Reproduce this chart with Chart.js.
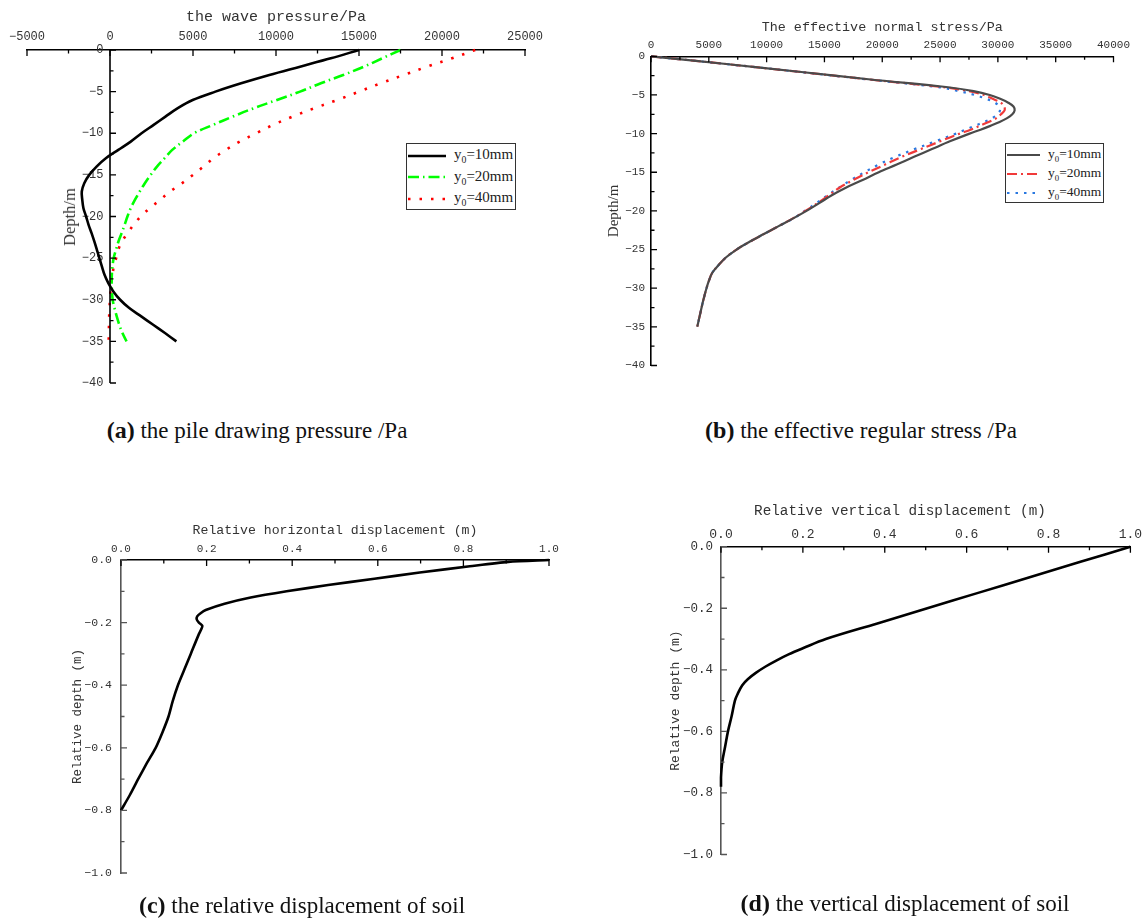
<!DOCTYPE html>
<html>
<head>
<meta charset="utf-8">
<script src="https://cdn.jsdelivr.net/npm/chart.js@4/dist/chart.umd.min.js"></script>
<style>
  body { margin: 0; background: #fff; width: 1146px; height: 919px; position: relative; overflow: hidden; font-family: "Liberation Serif", serif; }
  canvas { position: absolute; }
  .legend { position: absolute; box-sizing: border-box; border: 1.5px solid #333; background: #fff; padding: 1px 0 0 1px; color: #222; }
  .legend .row { display: flex; align-items: center; white-space: nowrap; }
  .legend svg { margin-right: 8px; }
  .legend sub { font-size: 0.65em; }
  .caption { position: absolute; font-size: 23px; line-height: 24px; white-space: nowrap; transform: translateX(-50%); color: #111; }
  .caption b { font-size: 24px; }
  .ytitle { position: absolute; white-space: nowrap; color: #333; transform: translate(-50%, -50%) rotate(-90deg); }
</style>
</head>
<body>
<canvas id="chartA" width="570" height="405" style="left:0;top:0"></canvas>
<canvas id="chartB" width="566" height="405" style="left:580px;top:0"></canvas>
<canvas id="chartC" width="570" height="429" style="left:0;top:490px"></canvas>
<canvas id="chartD" width="566" height="429" style="left:580px;top:490px"></canvas>

<div class="ytitle" style="left:69.6px;top:216.5px;font-size:16.5px">Depth/m</div>

<div id="legendA" class="legend" style="left:406px;top:143px;width:110px;height:67px;font-size:15px"></div>
<div id="legendB" class="legend" style="left:1005px;top:143px;width:99px;height:60px;font-size:13.5px"></div>

<div class="caption" style="left:257px;top:418px"><b>(a)</b> the pile drawing pressure /Pa</div>
<div class="caption" style="left:861px;top:418px"><b>(b)</b> the effective regular stress /Pa</div>
<div class="caption" style="left:302px;top:893px"><b>(c)</b> the relative displacement of soil</div>
<div class="caption" style="left:905px;top:891px"><b>(d)</b> the vertical displacement of soil</div>

<script>
// (a) wave pressure along the pile, Pa
var depthA = [0, -1, -2, -3, -4, -5, -6, -7, -8, -9, -10, -11, -12, -13, -14, -15, -16, -17,
  -18, -19, -20, -21, -22, -23, -24, -25, -26, -27, -28, -29, -30, -31, -32, -33, -34, -35];
var pressure10 = [15000, 13300, 11450, 9600, 7900, 6350, 4980, 4060, 3340, 2630, 1900, 1250, 500, -250,
  -810, -1250, -1550, -1700, -1670, -1600, -1440, -1290, -1110, -945, -790, -640, -490, -330, -100, 200,
  610, 1160, 1880, 2600, 3310, 4000];
var pressure20 = [17500, 16400, 15300, 14050, 12700, 11450, 10060, 8650, 7390, 6200, 5060, 4390, 3750, 3290,
  2830, 2450, 2100, 1790, 1500, 1250, 1050, 880, 700, 510, 360, 220, 150, 110, 100, 120, 160, 270, 405,
  560, 750, 1000];
var pressure40 = [22000, 20600, 19100, 17700, 16300, 15000, 13700, 12300, 11000, 9820, 8800, 7820, 6980, 6230,
  5630, 5000, 4340, 3620, 3020, 2400, 1850, 1420, 1060, 720, 500, 370, 230, 150, 80, 30, 0, -30, -50,
  -60, -70, -80];

// (b) effective normal stress, Pa
var depthB = [0, -1, -2, -3, -4, -4.5, -5, -5.5, -6, -6.5, -7, -7.5, -8, -8.5, -9, -9.5, -10, -11, -12, -13,
  -14, -15, -16, -17, -18, -19, -20, -21, -22, -23, -24, -25, -26, -27, -28, -29, -30, -31, -32, -33, -34, -35];
var stress10 = [0, 6500, 12800, 19000, 25700, 27900, 29300, 30200, 30900, 31350, 31450, 31250, 30800, 30150,
  29350, 28500, 27550, 25850, 24300, 22750, 21250, 19700, 18300, 16850, 15600, 14550, 13450, 12260, 11000,
  9760, 8520, 7400, 6500, 5850, 5300, 5020, 4800, 4620, 4450, 4300, 4150, 4000];
var stress20 = [0, 6500, 12750, 18900, 25300, 27500, 28800, 29550, 30250, 30550, 30580, 30270, 29870, 29200,
  28420, 27640, 26700, 25000, 23350, 21700, 20250, 18800, 17500, 16300, 15350, 14400, 13350, 12230, 11000,
  9760, 8520, 7400, 6500, 5850, 5300, 5020, 4800, 4620, 4450, 4300, 4150, 4000];
var stress40 = [0, 6500, 12700, 18800, 24900, 26600, 28000, 29000, 29750, 30100, 30180, 30000, 29500, 28800,
  28000, 27190, 26370, 24600, 22800, 21150, 19700, 18450, 17300, 16250, 15250, 14300, 13300, 12300, 11000,
  9760, 8520, 7400, 6500, 5850, 5300, 5020, 4800, 4620, 4450, 4300, 4150, 4000];

// (c) relative horizontal displacement
var depthC = [0, -0.006, -0.02, -0.04, -0.06, -0.08, -0.1, -0.12, -0.14, -0.16, -0.17, -0.18, -0.19, -0.2,
  -0.21, -0.22, -0.24, -0.3, -0.35, -0.4, -0.45, -0.5, -0.55, -0.6, -0.65, -0.7, -0.75, -0.8];
var horizDisp = [1.0, 0.905, 0.815, 0.698, 0.592, 0.484, 0.387, 0.303, 0.242, 0.198, 0.186, 0.178, 0.177,
  0.182, 0.19, 0.188, 0.181, 0.163, 0.148, 0.133, 0.121, 0.111, 0.097, 0.081, 0.06, 0.04, 0.021, 0.0];

// (d) relative vertical displacement
var depthD = [0, -0.05, -0.1, -0.15, -0.2, -0.25, -0.3, -0.33, -0.35, -0.37, -0.39, -0.41, -0.43, -0.45,
  -0.48, -0.5, -0.55, -0.6, -0.65, -0.7, -0.75, -0.78];
var vertDisp = [1.0, 0.876, 0.752, 0.628, 0.504, 0.38, 0.256, 0.2, 0.165, 0.135, 0.108, 0.085, 0.066, 0.052,
  0.04, 0.034, 0.026, 0.017, 0.01, 0.003, 0.0, 0.0];

var seriesLabels = ["y0=10mm", "y0=20mm", "y0=40mm"];

var MONO = '"Liberation Mono", monospace';
var SERIF = '"Liberation Serif", serif';

function pts(xs, ys) {
  return xs.map(function (v, i) { return {x: v, y: ys[i]}; });
}
function signed(v, digits) {
  var s = digits ? Math.abs(v).toFixed(digits) : String(Math.abs(v));
  return (v < -1e-9 ? "\u2212" : "") + s;
}
function every(step) {          // label every `step`, leave the in-between ticks blank
  return function (v) { return Math.abs(v % step) < 1e-9 ? signed(v) : ""; };
}
function everyTenth2(v) {
  return Math.round(v * 10) % 2 === 0 ? signed(v, 1) : "";
}

// short tick marks pointing into the plot; with axisAt the y axis line is drawn at that x value
var inwardTicks = {
  id: "inwardTicks",
  afterDraw: function (chart, args, opts) {
    var ctx = chart.ctx, area = chart.chartArea, x = chart.scales.x, y = chart.scales.y;
    var axisX = opts.axisAt !== undefined ? x.getPixelForValue(opts.axisAt) : area.left;
    ctx.save();
    ctx.lineWidth = 1.3;
    ctx.strokeStyle = "#000";
    ctx.beginPath();
    x.ticks.forEach(function (t, i) {
      var px = x.getPixelForTick(i);
      ctx.moveTo(px, area.top);
      ctx.lineTo(px, area.top + (t.label ? 6 : 3.5));
    });
    ctx.stroke();
    ctx.strokeStyle = opts.yColor || "#000";
    ctx.beginPath();
    y.ticks.forEach(function (t, i) {
      var py = y.getPixelForTick(i);
      ctx.moveTo(axisX, py);
      ctx.lineTo(axisX + (t.label ? 6 : 3.5), py);
    });
    ctx.stroke();
    if (opts.axisAt !== undefined) {
      ctx.lineWidth = 1.6;
      ctx.beginPath();
      ctx.moveTo(axisX, area.top);
      ctx.lineTo(axisX, area.bottom);
      ctx.stroke();
    }
    ctx.restore();
  }
};

function depthChart(id, p) {
  return new Chart(id, {
    type: "scatter",
    data: {datasets: p.datasets},
    options: {
      responsive: false,
      animation: false,
      devicePixelRatio: 1,
      layout: {padding: p.padding},
      plugins: {legend: {display: false}, tooltip: {enabled: false},
        inwardTicks: {yColor: p.y.color, axisAt: p.y.axisAt}},
      elements: {point: {radius: 0}},
      scales: {
        x: {
          type: "linear", position: "top", min: p.x.min, max: p.x.max,
          border: {color: "#000", width: 1.6},
          grid: {display: false, drawTicks: false},
          ticks: {stepSize: p.x.step, autoSkip: false, maxRotation: 0, padding: p.x.pad, color: "#333",
            font: {family: MONO, size: p.x.size}, callback: p.x.fmt},
          title: {display: true, text: p.x.title, color: "#333", padding: {top: 4, bottom: 0},
            font: {family: MONO, size: p.x.titleSize}},
          afterFit: function (s) { s.height = p.x.height; }
        },
        y: {
          type: "linear", position: p.y.position, min: p.y.min, max: p.y.max,
          border: {display: p.y.axisAt === undefined, color: p.y.color || "#000", width: 1.6},
          grid: {display: false, drawTicks: false},
          ticks: {stepSize: p.y.step, autoSkip: false, padding: p.y.pad, color: "#333",
            font: {family: MONO, size: p.y.size}, callback: p.y.fmt},
          title: {display: !!p.y.title, text: p.y.title, color: "#333", padding: {top: 4, bottom: 0},
            font: {family: p.y.titleFont, size: p.y.titleSize}},
          afterFit: function (s) { s.width = p.y.width; }
        }
      }
    },
    plugins: [inwardTicks]
  });
}

function line(label, xs, ys, color, width, dash, tension) {
  return {label: label, data: pts(xs, ys), showLine: true, borderColor: color, backgroundColor: color,
    borderWidth: width, borderDash: dash || [], tension: tension === undefined ? 0.35 : tension, clip: false};
}

var setA = [
  line(seriesLabels[0], pressure10, depthA, "#000000", 2.6),
  line(seriesLabels[1], pressure20, depthA, "#00ff00", 2.6, [11, 4, 1.5, 4]),
  line(seriesLabels[2], pressure40, depthA, "#ff0000", 2.6, [2.5, 9])
];
var setB = [
  line(seriesLabels[0], stress10, depthB, "#4a4a4a", 2.2),
  line(seriesLabels[1], stress20, depthB, "#f03a3a", 2.2, [10, 4, 2, 4]),
  line(seriesLabels[2], stress40, depthB, "#2a78e0", 2.2, [2.5, 6])
];

// in (a) the depth axis stands at zero pressure; its labels hang just left of it
depthChart("chartA", {
  datasets: setA,
  padding: {left: 27, right: 45, top: 3.7, bottom: 22},
  x: {min: -5000, max: 25000, step: 2500, size: 12, pad: 6.4, fmt: every(5000),
      title: "the wave pressure/Pa", titleSize: 15, height: 46.3},
  y: {position: {x: -400}, axisAt: 0, min: -40, max: 0, step: 2.5, size: 12, pad: 0, fmt: every(5),
      title: null, width: 0}
});

depthChart("chartB", {
  datasets: setB,
  padding: {left: 21, right: 32.5, top: 15.3, bottom: 39.5},
  x: {min: 0, max: 40000, step: 2500, size: 11, pad: 4.7, fmt: every(5000),
      title: "The effective normal stress/Pa", titleSize: 13.4, height: 41},
  y: {position: "left", min: -40, max: 0, step: 2.5, size: 11, pad: 6, fmt: every(5),
      title: "Depth/m", titleFont: SERIF, titleSize: 15, width: 50}
});

depthChart("chartC", {
  datasets: [line("horizontal", horizDisp, depthC, "#000", 2.6, [], 0.25)],
  padding: {left: 66.5, right: 21, top: 28.8, bottom: 46},
  x: {min: 0, max: 1, step: 0.1, size: 11, pad: 4.1, fmt: everyTenth2,
      title: "Relative horizontal displacement (m)", titleSize: 13.2, height: 41.2},
  y: {position: "left", min: -1, max: 0, step: 0.1, size: 11.5, pad: 9, fmt: everyTenth2, color: "#555",
      title: "Relative depth (m)", titleFont: MONO, titleSize: 12.5, width: 54.5}
});

depthChart("chartD", {
  datasets: [line("vertical", vertDisp, depthD, "#000", 2.6)],
  padding: {left: 83.9, right: 13, top: 9.1, bottom: 64.5},
  // trailing spaces nudge the centred title left, as in the figure
  x: {min: 0, max: 1, step: 0.1, size: 13, pad: 3.9, fmt: everyTenth2,
      title: "Relative vertical displacement (m)      ", titleSize: 14.3, height: 47.6},
  y: {position: "left", min: -1, max: 0, step: 0.1, size: 12.5, pad: 8, fmt: everyTenth2, color: "#555",
      title: "Relative depth (m)", titleFont: MONO, titleSize: 13, width: 57.1}
});

// legends as html so the subscript 0 can be real text
function htmlLegend(elId, sets, sampleW, rowH) {
  document.getElementById(elId).innerHTML = sets.map(function (ds) {
    var dash = ds.borderDash.length ? ' stroke-dasharray="' + ds.borderDash.join(" ") + '"' : "";
    return '<div class="row" style="height:' + rowH + 'px">' +
      '<svg width="' + sampleW + '" height="8"><line x1="0" y1="4" x2="' + sampleW + '" y2="4" stroke="' +
      ds.borderColor + '" stroke-width="' + ds.borderWidth + '"' + dash + '/></svg>' +
      '<span>' + ds.label.replace(/^y0/, "y<sub>0</sub>") + '</span></div>';
  }).join("");
}
htmlLegend("legendA", setA, 38, 21.5);
htmlLegend("legendB", setB, 33, 19.3);
</script>
</body>
</html>
